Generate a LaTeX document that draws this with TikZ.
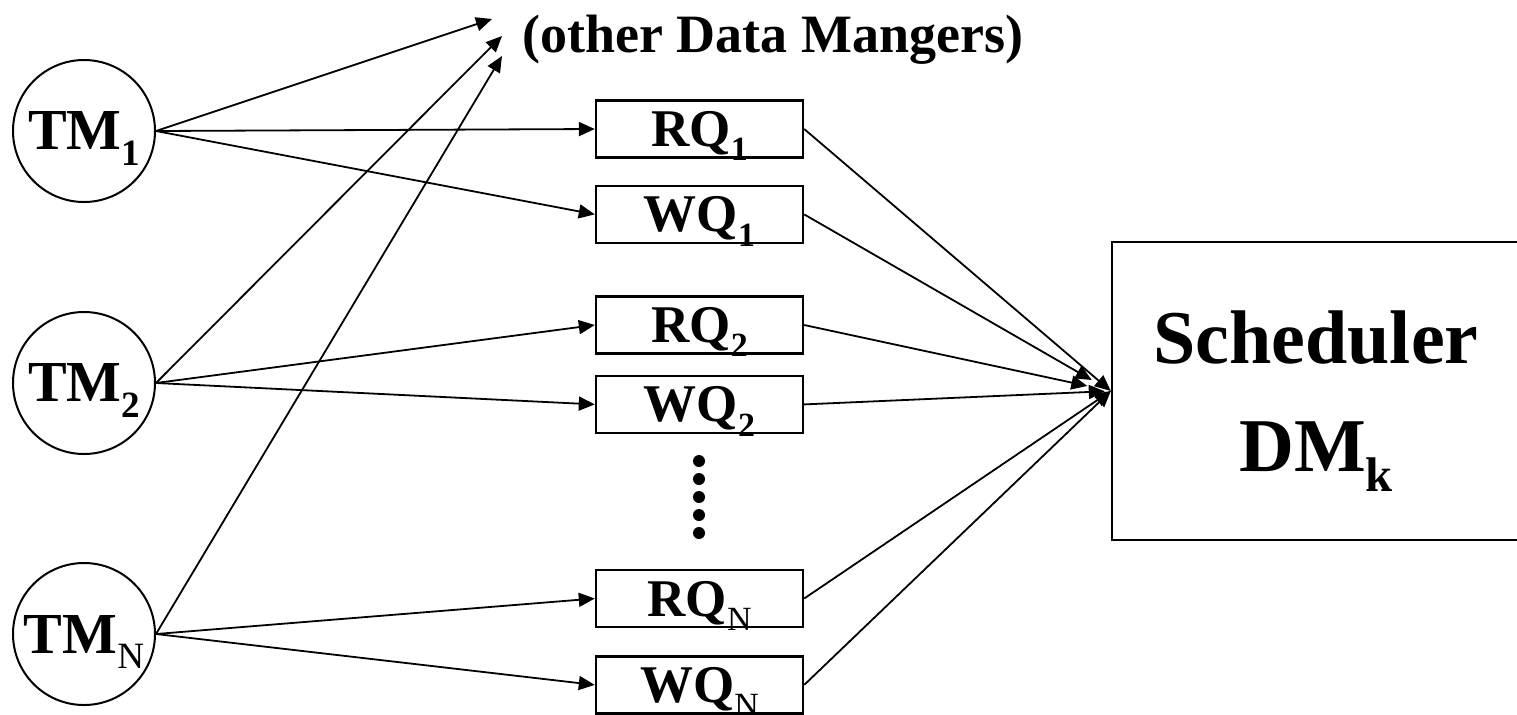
\documentclass[tikz,border=0pt]{standalone}
\usepackage{fontspec}
\setmainfont{Liberation Serif}
\usepackage{graphicx}
\usetikzlibrary{arrows.meta,positioning}

\newcommand{\lowsub}[1]{\raisebox{-0.27em}[0pt][0pt]{\scalebox{0.64}{#1}}}

\tikzset{
  tm/.style={circle, draw, line width=1pt, minimum size=71pt, inner sep=0pt, text depth=0pt,
    font=\fontsize{29}{29}\selectfont\bfseries},
  queue/.style={rectangle, draw, line width=1.2pt, minimum width=103.5pt, minimum height=28.5pt,
    inner sep=0pt, text depth=0pt, font=\fontsize{26.5}{26.5}\selectfont\bfseries},
  schedbox/.style={rectangle, draw, line width=1.2pt, minimum width=204pt, minimum height=149pt,
    align=center, font=\fontsize{38}{54}\selectfont\bfseries},
  link/.style={draw, -{Triangle[length=8pt,width=7pt]}, line width=0.9pt}
}

\begin{document}
\begin{tikzpicture}[x=0.5pt,y=-0.5pt]
	\useasboundingbox (0,0) rectangle (1517,714);
	\clip (0,0) rectangle (1517,714);

	\node[tm] (tm1) at (84,131) {TM\lowsub{1}};
	\node[tm] (tm2) at (84,383) {TM\lowsub{2}};
	\node[tm] (tmn) at (84,634) {TM\lowsub{\mdseries N}};

	\node[queue] (rq1) at (699.5,129)   {RQ\lowsub{1}};
	\node[queue] (wq1) [below=13pt of rq1] {WQ\lowsub{1}};
	\node[queue] (rq2) at (699.5,325)   {RQ\lowsub{2}};
	\node[queue] (wq2) [below=10pt of rq2] {WQ\lowsub{2}};
	\node[queue] (rqn) at (699.5,598.5) {RQ\lowsub{\mdseries N}};
	\node[queue] (wqn) [below=13.5pt of rqn] {WQ\lowsub{\mdseries N}};

	\node[schedbox] (sched) at (1316,391) {Scheduler\\DM\lowsub{k}};

	\coordinate (dm1) at (492,19);
	\coordinate (dm2) at (502,36);
	\coordinate (dm3) at (502,56);
	\node[anchor=base west, inner sep=0pt, font=\fontsize{27}{27}\selectfont\bfseries]
		(others) at (522,52) {(other Data Mangers)};

	\foreach \y in {461,479,497,515,533}
		\fill (699,\y) circle (3pt);

	\path (tm1.east) edge[link] (dm1)
		(tm2.east) edge[link] (dm2)
		(tmn.east) edge[link] (dm3);

	\path (tm1.east) edge[link] (rq1.west)
		(tm1.east) edge[link] (wq1.west)
		(tm2.east) edge[link] (rq2.west)
		(tm2.east) edge[link] (wq2.west)
		(tmn.east) edge[link] (rqn.west)
		(tmn.east) edge[link] (wqn.west);

	\path (rq1.east) edge[link] (sched.west)
		(wq1.east) edge[link, shorten >=11pt] (sched.west)
		(rq2.east) edge[link, shorten >=12pt] (sched.west)
		(wq2.east) edge[link, shorten >=3pt] (sched.west)
		(rqn.east) edge[link] (sched.west)
		(wqn.east) edge[link] (sched.west);
\end{tikzpicture}
\end{document}
